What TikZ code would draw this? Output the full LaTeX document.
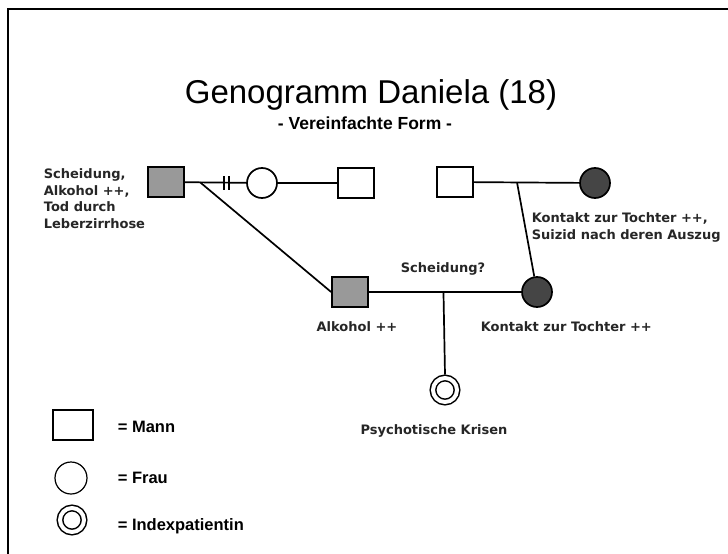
\documentclass[tikz,border=0pt]{standalone}
\usepackage{fontspec}
\newfontfamily\titelschrift{Liberation Sans}
\newfontfamily\beschriftung{DejaVu Sans}
\usetikzlibrary{positioning}
\definecolor{grauton}{gray}{0.6}
\definecolor{dunkel}{gray}{0.27}
\definecolor{textgrau}{gray}{0.15}
\begin{document}
\begin{tikzpicture}
				[
				x=1pt, y=-1pt, line width=1.7pt,
				mann/.style={draw, rectangle, minimum width=36pt, minimum height=30pt, inner sep=0pt},
				frau/.style={draw, circle, minimum size=30pt, inner sep=0pt},
				index/.style={draw, circle, minimum size=24pt, inner sep=0pt, double distance=4pt, line width=1.5pt, outer sep=3.5pt},
				krank/.style={fill=grauton},
				tot/.style={fill=dunkel},
				info/.style={font=\beschriftung\bfseries\fontsize{13}{16.6}\selectfont, text=textgrau, inner sep=0pt},
				legende/.style={font=\titelschrift\bfseries\fontsize{16.5}{20}\selectfont, inner sep=0pt, anchor=base west}
				%Voreinstellungen für Symbole und Texte
				]
				\useasboundingbox (0,0) rectangle (728,554);
				%Rahmen
				\draw[line width=1.5pt] (728,9) -- (8,9) -- (8,554);
				%Überschrift
				\node[font=\titelschrift\fontsize{33}{36}\selectfont, anchor=base, inner sep=0pt] (titel) at (371,103) {Genogramm Daniela (18)};
				\node[font=\titelschrift\bfseries\fontsize{17.5}{20}\selectfont, anchor=base, inner sep=0pt] (untertitel) at (365,129) {- Vereinfachte Form -};
				%Großeltern
				\node[mann, krank] (opaA) at (166,182) {};
				\node[frau] (omaA) at (262,183) {};
				\node[mann] (partner) at (356,183) {};
				\node[mann] (opaB) at (455,182) {};
				\node[frau, tot] (omaB) at (595,183) {};
				%Eltern und Index
				\node[mann, krank] (vater) at (350,292) {};
				\node[frau, tot] (mutter) at (537,292) {};
				\node[index] (daniela) at (445,390) {};
				%Linien
				\draw (opaA) -- (omaA) coordinate[pos=0.25] (eheA) coordinate[pos=0.64] (trennung1) coordinate[pos=0.72] (trennung2);
				\draw ([yshift=-7pt]trennung1) -- ([yshift=7pt]trennung1);
				\draw ([yshift=-7pt]trennung2) -- ([yshift=7pt]trennung2);
				\draw (omaA) -- (partner);
				\draw (opaB) -- (omaB) coordinate[pos=0.41] (eheB);
				\draw (eheA) -- (vater.west);
				\draw (eheB) -- (mutter.100);
				\draw (vater) -- (mutter) coordinate[pos=0.49] (eheC);
				\draw (eheC) -- (daniela.north);
				%Beschriftungen
				\node[info, align=left, anchor=north west] (infoOpaA) at (43,168) {Scheidung,\\Alkohol ++,\\Tod durch\\Leberzirrhose};
				\node[info, align=left, anchor=north west] (infoOmaB) at (531,212) {Kontakt zur Tochter ++,\\Suizid nach deren Auszug};
				\node[info, anchor=base] (scheidung) at (443,272) {Scheidung?};
				\node[info, anchor=base] (infoVater) at (357,331) {Alkohol ++};
				\node[info, anchor=base west] (infoMutter) at (480,331) {Kontakt zur Tochter ++};
				\node[info, anchor=base] (infoDaniela) at (434,434) {Psychotische Krisen};
				%Legende
				\node[mann, minimum width=40pt, line width=1.2pt] (legMann) at (73,425) {};
				\node[frau, minimum size=32pt, line width=1.2pt] (legFrau) at (71,478) {};
				\node[index] (legIndex) at (72,520) {};
				\node[legende] (txtMann) at (117,432) {= Mann};
				\node[legende] (txtFrau) at (117,483) {= Frau};
				\node[legende] (txtIndex) at (117,530) {= Indexpatientin};
			\end{tikzpicture}
\end{document}
